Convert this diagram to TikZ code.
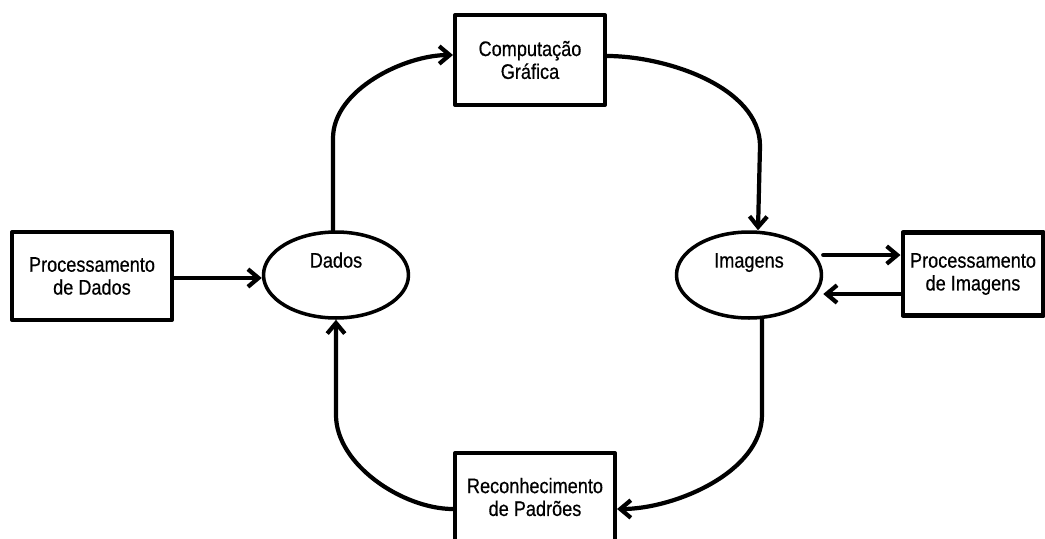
\documentclass[tikz,border=0pt]{standalone}
\usepackage{fontspec}
\setmainfont[FakeStretch=0.86,FakeBold=0.5]{Liberation Sans}
\usepackage{tikz}
\usetikzlibrary{shapes.geometric, arrows, arrows.meta}
\tikzstyle{arrow} = [line width=2.4pt,->,>={Straight Barb[length=6pt,width=10pt]}]
\tikzstyle{box} = [draw, line width=2.3pt, rectangle, align=center, font=\fontsize{12}{13}\selectfont]
\tikzstyle{elli} = [draw, line width=2pt, ellipse, minimum width=2.9cm, minimum height=1.72cm, text height=8.6pt, text depth=17pt, font=\fontsize{12}{13}\selectfont]

\begin{document}
\begin{tikzpicture}[line cap=round,line join=round,x=0.02cm,y=-0.02cm]
                \useasboundingbox (0,0) rectangle (1045,538);
                \node[box, minimum width=3.0cm, minimum height=1.8cm] (comp) at (530,60) {Computação\\Gráfica};
                \node[box, minimum width=3.2cm, minimum height=1.76cm] (procdados) at (92,276) {Processamento\\de Dados};
                \node[elli] (dados) at (336,275) {Dados};
                \node[elli] (imagens) at (749,275) {Imagens};
                \node[box, minimum width=2.82cm, minimum height=1.66cm] (procimg) at (973,274) {Processamento\\de Imagens};
                \node[box, minimum width=3.2cm, minimum height=1.76cm] (recon) at (535,497) {Reconhecimento\\de Padrões};
                \draw [arrow] (procdados.east |- 0,278) -- (dados.west |- 0,278);
                \draw [arrow] ([xshift=-0.06cm]dados.north) -- ++(0,-92) to[out=90,in=180,looseness=0.85] (comp.west |- 0,55);
                \draw [arrow] (comp.east |- 0,56) to[out=0,in=90,looseness=0.85] ++(153,90) -- ([xshift=0.18cm]imagens.north);
                \draw [arrow] (imagens.east |- 0,255) -- (procimg.west |- 0,255);
                \draw [arrow] (procimg.west |- 0,294) -- (imagens.east |- 0,294);
                \draw [arrow] ([xshift=0.26cm]imagens.south) -- ++(0,95) to[out=270,in=0,looseness=0.85] (recon.east |- 0,509);
                \draw [arrow] (recon.west |- 0,509) to[out=180,in=270,looseness=0.85] (dados.south |- 0,415) -- (dados.south);
            \end{tikzpicture}
\end{document}
